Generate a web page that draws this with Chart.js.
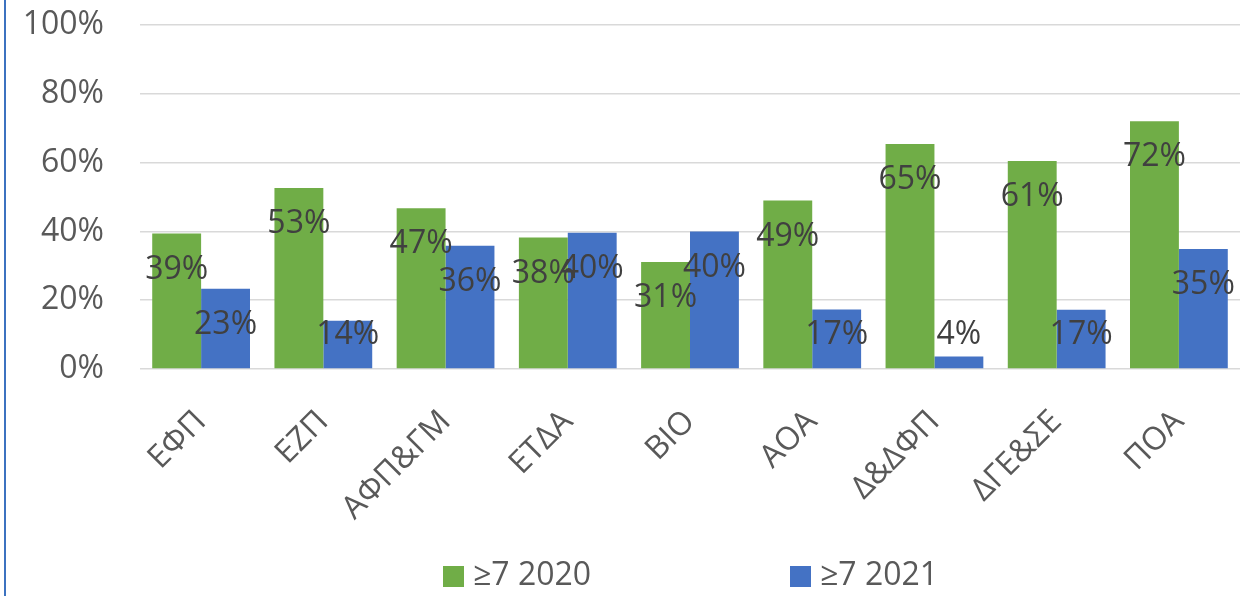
<!DOCTYPE html>
<html>
<head>
<meta charset="utf-8">
<script src="https://cdn.jsdelivr.net/npm/chart.js@4.4.0/dist/chart.umd.min.js"></script>
<style>
body { margin: 0; background: #ffffff; }
#wrap { position: relative; width: 1249px; height: 596px; }
#edge { position: absolute; left: 4px; top: 0; width: 2px; height: 596px; background: #3c72c0; }
</style>
</head>
<body>
<div id="wrap">
  <canvas id="myChart" width="1249" height="596"></canvas>
  <div id="edge"></div>
</div>
<script>
// categories and values (percent)
const categories = ["ΕΦΠ", "ΕΖΠ", "ΑΦΠ&ΓΜ", "ΕΤΔΑ", "ΒΙΟ", "ΑΟΑ", "Δ&ΔΦΠ", "ΔΓΕ&ΣΕ", "ΠΟΑ"];
const values_2020 = [39.4, 52.6, 46.7, 38.2, 31.1, 49.0, 65.4, 60.5, 72.0];
const values_2021 = [23.3, 14.0, 35.8, 39.6, 40.0, 17.3, 3.6, 17.2, 34.9];
const series_labels = ["≥7 2020", "≥7 2021"];
const y_ticks = [0, 20, 40, 60, 80, 100];

const font_name = "'Open Sans', sans-serif";

// data labels drawn inside the bar top (kept above the axis)
const barLabels = {
    id: 'barLabels',
    afterDatasetsDraw(chart) {
        const ctx = chart.ctx;
        ctx.save();
        ctx.font = "32px " + font_name;
        ctx.fillStyle = '#404040';
        ctx.textAlign = 'center';
        ctx.textBaseline = 'middle';
        chart.data.datasets.forEach(function(ds, i) {
            const meta = chart.getDatasetMeta(i);
            meta.data.forEach(function(el, j) {
                let y = Math.min(el.y + 36, el.base - 33);
                ctx.fillText(Math.round(ds.data[j]) + '%', el.x, y);
            });
        });
        ctx.restore();
    }
};

// legend at the bottom, two items far apart
const bottomLegend = {
    id: 'bottomLegend',
    afterDraw(chart) {
        const ctx = chart.ctx;
        const starts = [443, 790];
        ctx.save();
        ctx.font = "32px " + font_name;
        ctx.textBaseline = 'middle';
        ctx.textAlign = 'left';
        chart.data.datasets.forEach(function(ds, i) {
            const x = starts[i];
            const y = 576;
            ctx.fillStyle = ds.backgroundColor;
            ctx.fillRect(x, y - 10, 21, 21);
            ctx.fillStyle = '#595959';
            ctx.fillText(ds.label, x + 30, y);
        });
        ctx.restore();
    }
};

const data = {
    labels: categories,
    datasets: [
        { label: series_labels[0], data: values_2020, backgroundColor: '#70ad47' },
        { label: series_labels[1], data: values_2021, backgroundColor: '#4472c4' }
    ]
};

const config = {
    type: 'bar',
    data: data,
    plugins: [barLabels, bottomLegend],
    options: {
        responsive: false,
        animation: false,
        categoryPercentage: 0.8,
        barPercentage: 1.0,
        layout: { padding: { top: 25, right: 9, left: 0, bottom: 0 } },
        scales: {
            x: {
                grid: { display: false },
                border: { display: false },
                ticks: {
                    color: '#595959',
                    font: { size: 32, family: font_name },
                    minRotation: 45,
                    maxRotation: 45,
                    padding: 26
                },
                afterFit: function(scale) {
                    scale.height = 227;
                    scale.paddingTop = 0;
                    scale.paddingLeft = 0;
                    scale.paddingRight = 0;
                }
            },
            y: {
                min: 0,
                max: 100,
                grid: { color: '#d9d9d9', lineWidth: 1.5, drawTicks: false },
                border: { display: false },
                afterBuildTicks: function(scale) {
                    scale.ticks = y_ticks.map(function(v) { return { value: v }; });
                },
                ticks: {
                    color: '#595959',
                    font: { size: 32, family: font_name },
                    padding: 36,
                    callback: function(v) { return v + '%'; }
                },
                afterFit: function(scale) {
                    scale.width = 140;
                    scale.paddingTop = 0;
                    scale.paddingBottom = 0;
                }
            }
        },
        plugins: {
            legend: { display: false },
            tooltip: { enabled: false }
        }
    }
};

const myChart = new Chart(document.getElementById('myChart'), config);
</script>
</body>
</html>
